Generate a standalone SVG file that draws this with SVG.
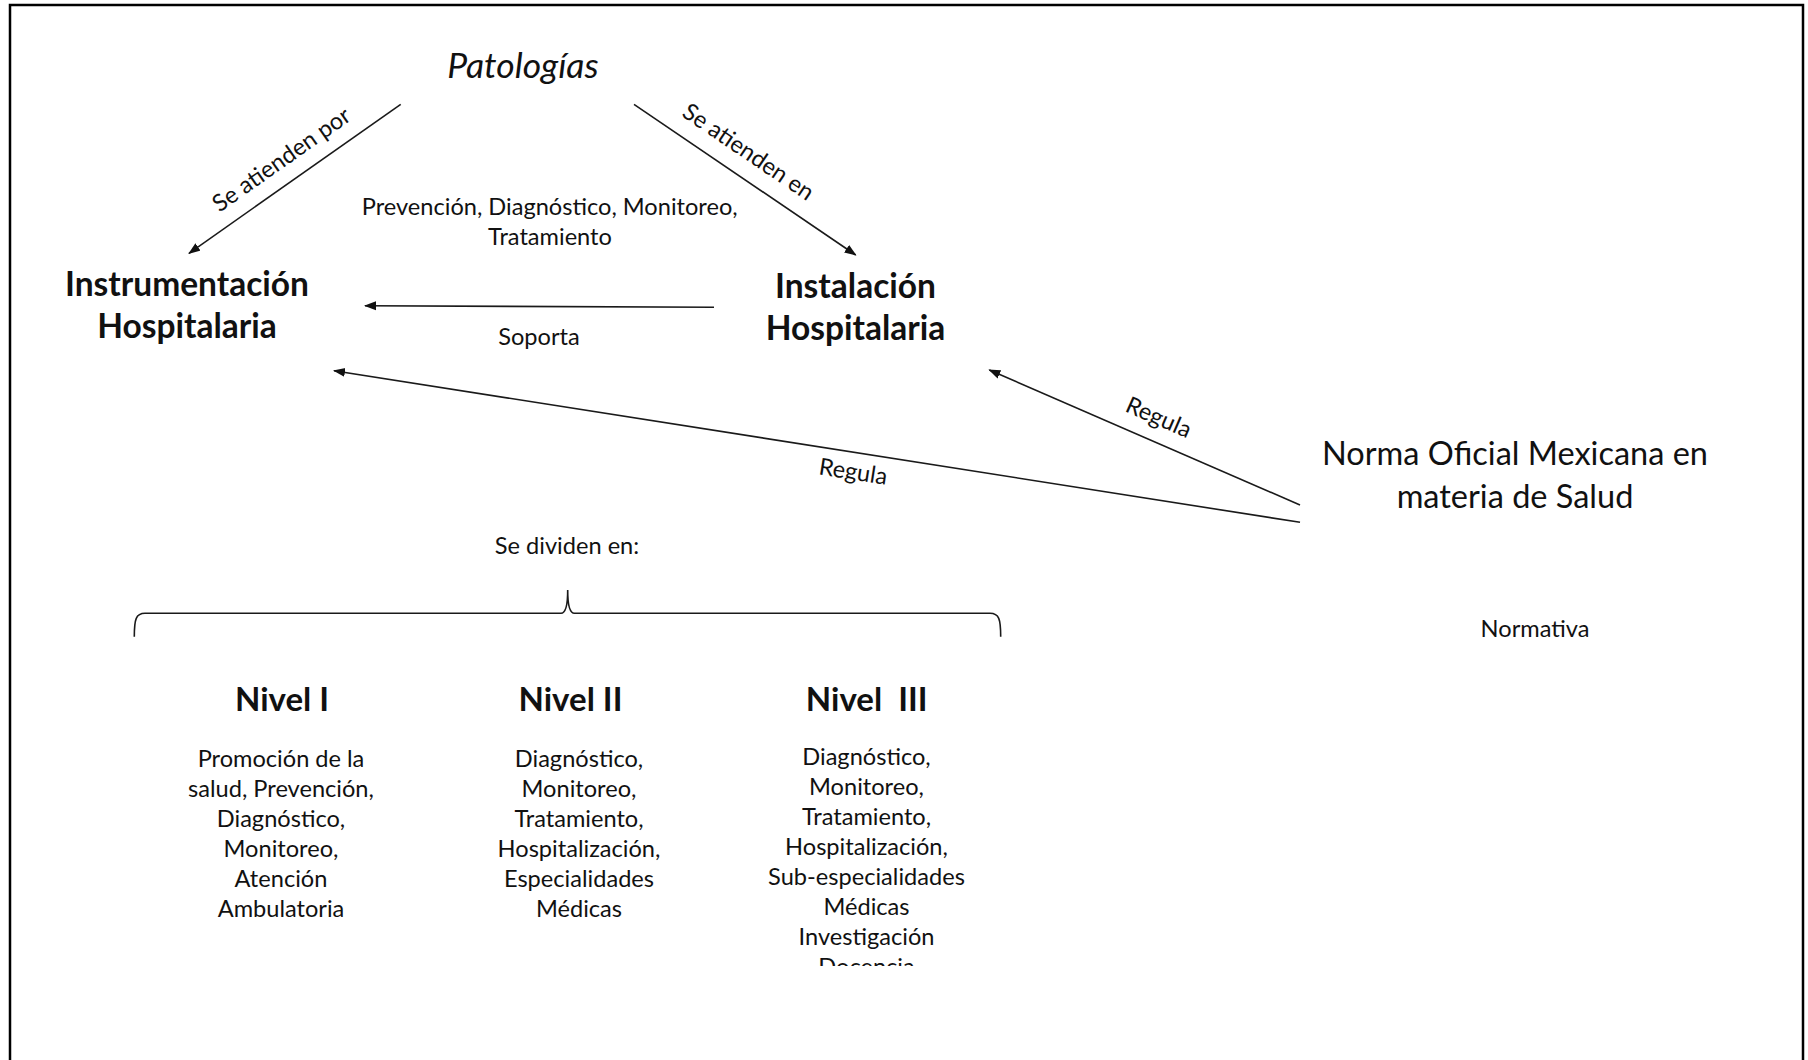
<svg xmlns="http://www.w3.org/2000/svg" width="1808" height="1060" viewBox="0 0 1808 1060">
<style>
text{font-family:Lato,"Liberation Sans",sans-serif;fill:#111;text-anchor:middle}
.b{font-weight:bold;font-size:33.5px}
.nv{font-weight:bold;font-size:33px}
.n{font-size:23.6px}
.l{font-size:23.5px}
.it{font-style:italic;font-size:35.5px}
.big{font-size:32.5px}
.c{fill:none;stroke:#1a1a1a;stroke-width:1.6}
</style>
<defs>
<marker id="ah" markerWidth="12" markerHeight="10" refX="11" refY="5" orient="auto" markerUnits="userSpaceOnUse">
<path d="M0,0.5 L12,5 L0,9.5 Z" fill="#111"/>
</marker>
<clipPath id="clipDoc"><rect x="700" y="600" width="340" height="366"/></clipPath>
</defs>
<rect width="1808" height="1060" fill="#fff"/>
<path d="M10,1060 V5 H1803 V1060" fill="none" stroke="#000" stroke-width="2.5"/>

<g id="connectors">
<line class="c" x1="400.7" y1="104.3" x2="189" y2="253.3" marker-end="url(#ah)"/>
<line class="c" x1="634" y1="104.3" x2="855.7" y2="255" marker-end="url(#ah)"/>
<line class="c" x1="714" y1="307.3" x2="365" y2="305.7" marker-end="url(#ah)" stroke-width="2"/>
<line class="c" x1="1300" y1="505" x2="989.3" y2="370" marker-end="url(#ah)"/>
<line class="c" x1="1300" y1="522.3" x2="334" y2="370.7" marker-end="url(#ah)" stroke-width="2"/>
<text class="l" transform="translate(286,166) rotate(-35.1)">Se atienden por</text>
<text class="l" transform="translate(744,158.5) rotate(34.2)">Se atienden en</text>
<text class="n" x="539" y="344.5">Soporta</text>
<text class="l" transform="translate(1155.5,424.7) rotate(23.5)">Regula</text>
<text class="l" transform="translate(852,479.6) rotate(8.9)">Regula</text>
</g>

<g id="patologias"><text class="it" x="523" y="78">Patologías</text></g>
<g id="instrumentacion">
<text class="b" x="187" y="295.7">Instrumentación</text>
<text class="b" x="187" y="337.5">Hospitalaria</text>
</g>
<g id="instalacion">
<text class="b" x="855.5" y="298">Instalación</text>
<text class="b" x="855.5" y="339.5">Hospitalaria</text>
</g>
<g id="acciones">
<text class="n" x="549.7" y="215">Prevención, Diagnóstico, Monitoreo,</text>
<text class="n" x="550" y="244.5">Tratamiento</text>
</g>
<g id="norma">
<text class="big" x="1515" y="464.5">Norma Oficial Mexicana en</text>
<text class="big" x="1515" y="507.5">materia de Salud</text>
</g>
<g id="normativa"><text class="n" x="1535" y="637">Normativa</text></g>
<g id="se-dividen"><text class="n" x="567" y="554">Se dividen en:</text></g>
<g id="llave">
<path class="c" d="M134.3,636.7 C134.3,619 136,613.3 145,613.3 H561 Q567.7,613.3 567.7,590 Q567.7,613.3 574.4,613.3 H990 C999,613.3 1000.7,619 1000.7,636.7"/>
</g>
<g id="nivel1">
<text class="nv" x="282" y="710.7">Nivel I</text>
<text class="n" x="281" y="766.7">Promoción de la</text>
<text class="n" x="281" y="796.7">salud, Prevención,</text>
<text class="n" x="281" y="826.7">Diagnóstico,</text>
<text class="n" x="281" y="856.7">Monitoreo,</text>
<text class="n" x="281" y="886.7">Atención</text>
<text class="n" x="281" y="916.7">Ambulatoria</text>
</g>
<g id="nivel2">
<text class="nv" x="570.5" y="710.7">Nivel II</text>
<text class="n" x="579" y="766.7">Diagnóstico,</text>
<text class="n" x="579" y="796.7">Monitoreo,</text>
<text class="n" x="579" y="826.7">Tratamiento,</text>
<text class="n" x="579" y="856.7">Hospitalización,</text>
<text class="n" x="579" y="886.7">Especialidades</text>
<text class="n" x="579" y="916.7">Médicas</text>
</g>
<g id="nivel3">
<text class="nv" x="866.7" y="710.7" xml:space="preserve">Nivel  III</text>
<g clip-path="url(#clipDoc)">
<text class="n" x="866.5" y="764.5">Diagnóstico,</text>
<text class="n" x="866.5" y="794.5">Monitoreo,</text>
<text class="n" x="866.5" y="824.5">Tratamiento,</text>
<text class="n" x="866.5" y="854.5">Hospitalización,</text>
<text class="n" x="866.5" y="884.5">Sub-especialidades</text>
<text class="n" x="866.5" y="914.5">Médicas</text>
<text class="n" x="866.5" y="944.5">Investigación</text>
<text class="n" x="866.5" y="974.5">Docencia</text>
</g>
</g>
</svg>
